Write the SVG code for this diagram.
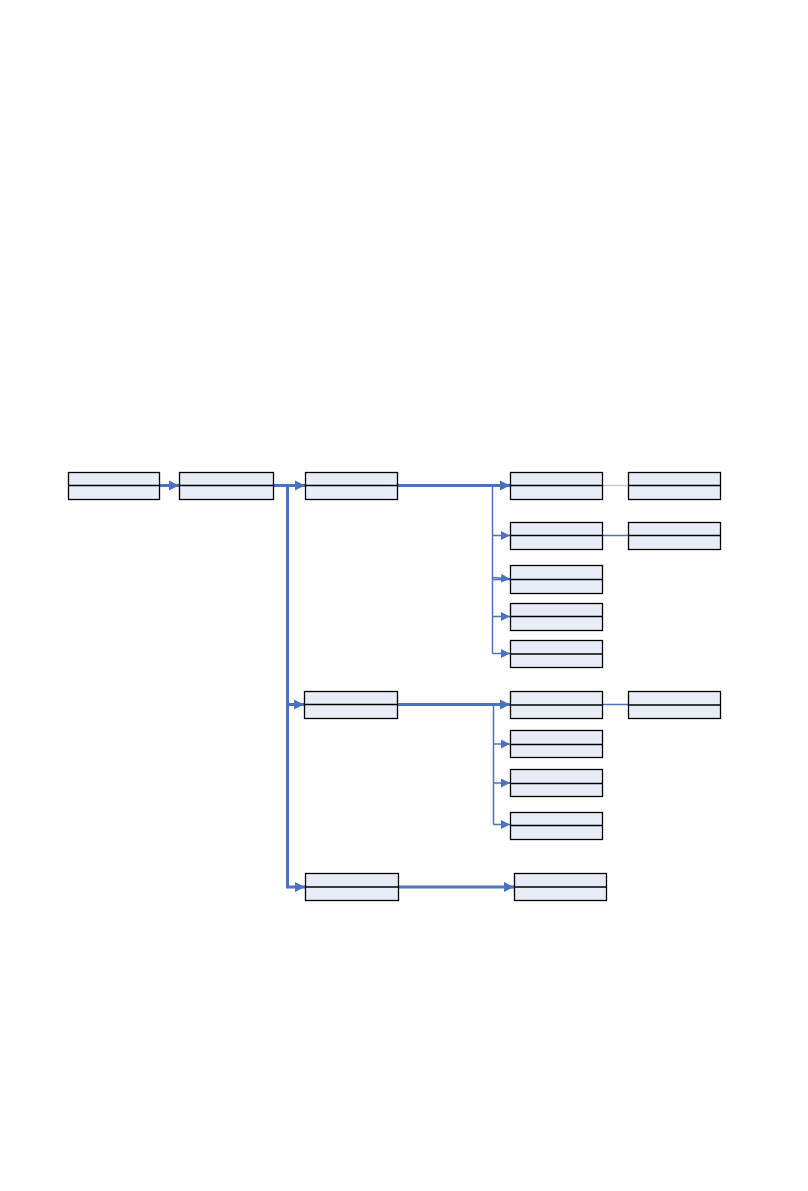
<svg xmlns="http://www.w3.org/2000/svg" width="808" height="1191" viewBox="0 0 808 1191">
<style>
.box{fill:url(#g);stroke:#000;stroke-width:1.3}
.div{stroke:#000;stroke-width:1.3}
.thick{stroke:#4A72BE;stroke-width:3;fill:none}
.thin{stroke:#4A72BE;stroke-width:1.5;fill:none}
.gray{stroke:#B8C4D8;stroke-width:1.2;fill:none}
</style>
<defs>
<linearGradient id="g" x1="0" y1="0" x2="0" y2="1">
<stop offset="0" stop-color="#E6EBF5"/>
<stop offset="1" stop-color="#E9EDF7"/>
</linearGradient>
<marker id="ab" viewBox="0 0 10 10" refX="10" refY="5" markerWidth="3.4" markerHeight="3.4" markerUnits="strokeWidth" orient="auto"><path d="M0,0 L10,5 L0,10 z" fill="#4A72BE"/></marker>
<marker id="as" viewBox="0 0 10 10" refX="10" refY="5" markerWidth="6" markerHeight="6" markerUnits="strokeWidth" orient="auto"><path d="M0,0 L10,5 L0,10 z" fill="#4A72BE"/></marker>
</defs>
<rect width="808" height="1191" fill="#fff"/>
<g id="connectors">
<line class="thick" x1="160" y1="485.5" x2="179" y2="485.5" marker-end="url(#ab)"/>
<line class="thick" x1="273" y1="485.5" x2="305" y2="485.5" marker-end="url(#ab)"/>
<path class="thick" d="M287.5,485.5 V887 H305" marker-end="url(#ab)"/>
<line class="thick" x1="287.5" y1="704.5" x2="304" y2="704.5" marker-end="url(#ab)"/>
<line class="thick" x1="398" y1="485.5" x2="510" y2="485.5" marker-end="url(#ab)"/>
<line class="thin" x1="492.5" y1="485.5" x2="492.5" y2="653.5"/>
<line class="thin" x1="492.5" y1="535.5" x2="510" y2="535.5" marker-end="url(#as)"/>
<line class="thin" x1="492.5" y1="577.5" x2="510" y2="579" marker-end="url(#as)"/>
<line class="thin" x1="492.5" y1="579.5" x2="510" y2="579.5"/>
<line class="thin" x1="492.5" y1="616.5" x2="510" y2="616.5" marker-end="url(#as)"/>
<line class="thin" x1="492.5" y1="653.5" x2="510" y2="653.5" marker-end="url(#as)"/>
<line class="gray" x1="602" y1="485.5" x2="628" y2="485.5"/>
<line class="thin" x1="602" y1="535.5" x2="628" y2="535.5"/>
<line class="thick" x1="397" y1="704.5" x2="510" y2="704.5" marker-end="url(#ab)"/>
<line class="thin" x1="493.5" y1="704.5" x2="493.5" y2="824.5"/>
<line class="thin" x1="493.5" y1="744" x2="510" y2="744" marker-end="url(#as)"/>
<line class="thin" x1="493.5" y1="783" x2="510" y2="783" marker-end="url(#as)"/>
<line class="thin" x1="493.5" y1="824.5" x2="510" y2="824.5" marker-end="url(#as)"/>
<line class="thin" x1="602" y1="704.5" x2="628" y2="704.5"/>
<line class="thick" x1="398" y1="887" x2="514" y2="887" marker-end="url(#ab)"/>
</g>
<g id="n1"><rect class="box" x="68.5" y="472.5" width="91" height="27"/><line class="div" x1="68.5" y1="485.5" x2="159.5" y2="485.5"/></g>
<g id="n2"><rect class="box" x="179.5" y="472.5" width="94" height="27"/><line class="div" x1="179.5" y1="485.5" x2="273.5" y2="485.5"/></g>
<g id="n3"><rect class="box" x="305.5" y="472.5" width="92" height="27"/><line class="div" x1="305.5" y1="485.5" x2="397.5" y2="485.5"/></g>
<g id="n4"><rect class="box" x="304.5" y="691.5" width="93" height="27"/><line class="div" x1="304.5" y1="704.5" x2="397.5" y2="704.5"/></g>
<g id="n5"><rect class="box" x="305.5" y="873.5" width="93" height="27"/><line class="div" x1="305.5" y1="887" x2="398.5" y2="887"/></g>
<g id="a1"><rect class="box" x="510.5" y="472.5" width="92" height="27"/><line class="div" x1="510.5" y1="485.5" x2="602.5" y2="485.5"/></g>
<g id="a2"><rect class="box" x="510.5" y="522.5" width="92" height="27"/><line class="div" x1="510.5" y1="535.5" x2="602.5" y2="535.5"/></g>
<g id="a3"><rect class="box" x="510.5" y="565.5" width="92" height="28"/><line class="div" x1="510.5" y1="579.5" x2="602.5" y2="579.5"/></g>
<g id="a4"><rect class="box" x="510.5" y="603.5" width="92" height="27"/><line class="div" x1="510.5" y1="616.5" x2="602.5" y2="616.5"/></g>
<g id="a5"><rect class="box" x="510.5" y="640.5" width="92" height="27"/><line class="div" x1="510.5" y1="654" x2="602.5" y2="654"/></g>
<g id="b1"><rect class="box" x="628.5" y="472.5" width="92" height="27"/><line class="div" x1="628.5" y1="485.5" x2="720.5" y2="485.5"/></g>
<g id="b2"><rect class="box" x="628.5" y="522.5" width="92" height="27"/><line class="div" x1="628.5" y1="535.5" x2="720.5" y2="535.5"/></g>
<g id="c1"><rect class="box" x="510.5" y="691.5" width="92" height="27"/><line class="div" x1="510.5" y1="705" x2="602.5" y2="705"/></g>
<g id="c2"><rect class="box" x="510.5" y="730.5" width="92" height="27"/><line class="div" x1="510.5" y1="744.5" x2="602.5" y2="744.5"/></g>
<g id="c3"><rect class="box" x="510.5" y="769.5" width="92" height="27"/><line class="div" x1="510.5" y1="783.5" x2="602.5" y2="783.5"/></g>
<g id="c4"><rect class="box" x="510.5" y="812.5" width="92" height="27"/><line class="div" x1="510.5" y1="825.5" x2="602.5" y2="825.5"/></g>
<g id="d1"><rect class="box" x="628.5" y="691.5" width="92" height="27"/><line class="div" x1="628.5" y1="705" x2="720.5" y2="705"/></g>
<g id="e1"><rect class="box" x="514.5" y="873.5" width="92" height="27"/><line class="div" x1="514.5" y1="887" x2="606.5" y2="887"/></g>
</svg>
